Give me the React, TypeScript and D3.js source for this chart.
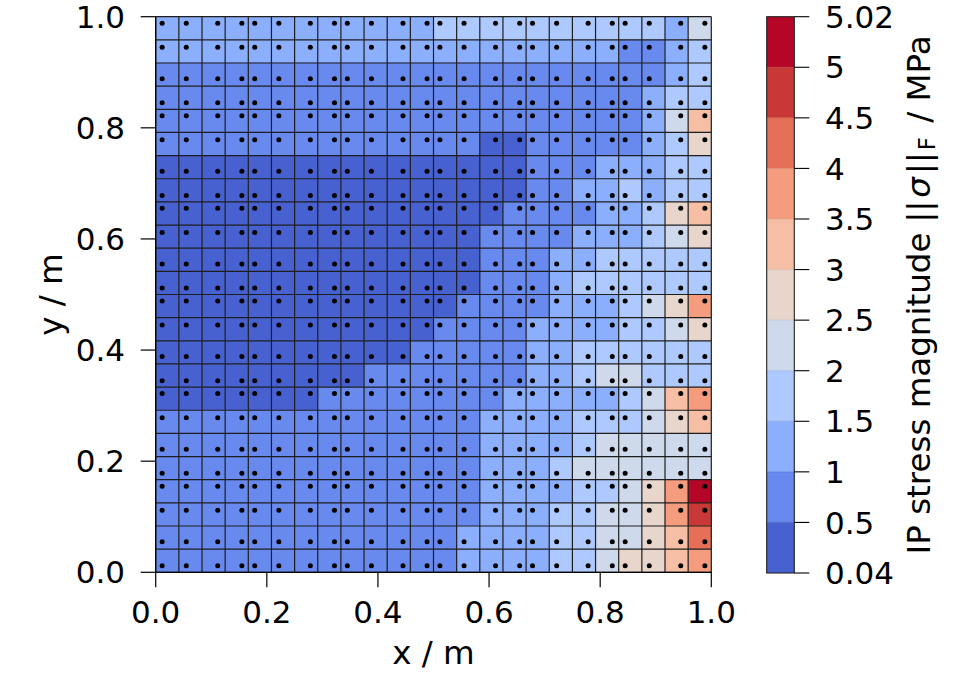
// Integration-point stress magnitude on a 6x6 element mesh (4x4 Gauss points each).

import * as d3 from "d3";

// colour levels of the discrete colourbar (MPa)
const levels = [0.04, 0.5, 1, 1.5, 2, 2.5, 3, 3.5, 4, 4.5, 5, 5.02];
const levelLabels = ["0.04", "0.5", "1", "1.5", "2", "2.5", "3", "3.5", "4", "4.5", "5", "5.02"];

const xTicks = [0, 0.2, 0.4, 0.6, 0.8, 1.0];
const yTicks = [0, 0.2, 0.4, 0.6, 0.8, 1.0];

const nElements = 6; // elements per side
const gaussPoints = [-0.861136, -0.339981, 0.339981, 0.861136]; // 4-point rule

// stress magnitude at each integration point, rows from y = 1 (top) down to y = 0
const stress = [
  [1.25, 1.25, 1.25, 1.25, 1.25, 1.25, 1.25, 1.25, 1.25, 1.25, 1.25, 1.25, 1.75, 1.75, 1.75, 1.75, 1.75, 1.75, 1.75, 1.75, 1.75, 1.75, 1.25, 2.25],
  [1.25, 1.25, 1.25, 1.25, 1.25, 1.25, 1.25, 1.25, 1.25, 1.25, 1.25, 1.25, 1.25, 1.25, 1.25, 1.25, 1.25, 1.25, 1.25, 1.25, 0.75, 0.75, 1.25, 1.75],
  [0.75, 0.75, 0.75, 0.75, 0.75, 0.75, 0.75, 0.75, 0.75, 0.75, 0.75, 0.75, 0.75, 0.75, 0.75, 0.75, 0.75, 0.75, 0.75, 0.75, 0.75, 0.75, 1.25, 1.75],
  [0.75, 0.75, 0.75, 0.75, 0.75, 0.75, 0.75, 0.75, 0.75, 0.75, 0.75, 0.75, 0.75, 0.75, 0.75, 0.75, 0.75, 0.75, 0.75, 0.75, 0.75, 1.25, 1.75, 1.75],
  [0.75, 0.75, 0.75, 0.75, 0.75, 0.75, 0.75, 0.75, 0.75, 0.75, 0.75, 0.75, 0.75, 0.75, 0.75, 0.75, 0.75, 0.75, 0.75, 0.75, 0.75, 1.25, 2.25, 3.25],
  [0.75, 0.75, 0.75, 0.75, 0.75, 0.75, 0.75, 0.75, 0.75, 0.75, 0.75, 0.75, 0.75, 0.75, 0.3, 0.3, 0.75, 0.75, 0.75, 0.75, 0.75, 1.25, 1.75, 2.75],
  [0.3, 0.3, 0.3, 0.3, 0.3, 0.3, 0.3, 0.3, 0.3, 0.3, 0.3, 0.3, 0.3, 0.3, 0.3, 0.3, 0.75, 0.75, 0.75, 1.25, 1.25, 1.25, 1.75, 1.75],
  [0.3, 0.3, 0.3, 0.3, 0.3, 0.3, 0.3, 0.3, 0.3, 0.3, 0.3, 0.3, 0.3, 0.3, 0.3, 0.3, 0.75, 0.75, 1.25, 1.25, 1.75, 1.25, 1.75, 1.75],
  [0.3, 0.3, 0.3, 0.3, 0.3, 0.3, 0.3, 0.3, 0.3, 0.3, 0.3, 0.3, 0.3, 0.3, 0.3, 0.75, 0.75, 0.75, 0.75, 1.25, 1.25, 1.75, 2.75, 3.25],
  [0.3, 0.3, 0.3, 0.3, 0.3, 0.3, 0.3, 0.3, 0.3, 0.3, 0.3, 0.3, 0.3, 0.3, 0.75, 0.75, 0.75, 0.75, 1.25, 1.25, 1.25, 1.75, 2.25, 2.75],
  [0.3, 0.3, 0.3, 0.3, 0.3, 0.3, 0.3, 0.3, 0.3, 0.3, 0.3, 0.3, 0.3, 0.3, 0.75, 0.75, 0.75, 1.25, 1.25, 1.75, 1.75, 1.75, 1.75, 1.75],
  [0.3, 0.3, 0.3, 0.3, 0.3, 0.3, 0.3, 0.3, 0.3, 0.3, 0.3, 0.3, 0.3, 0.3, 0.75, 0.75, 0.75, 1.25, 1.75, 1.75, 1.75, 1.75, 1.75, 1.75],
  [0.3, 0.3, 0.3, 0.3, 0.3, 0.3, 0.3, 0.3, 0.3, 0.3, 0.3, 0.3, 0.3, 0.75, 0.75, 0.75, 0.75, 1.25, 1.25, 1.25, 1.75, 2.25, 2.75, 3.75],
  [0.3, 0.3, 0.3, 0.3, 0.3, 0.3, 0.3, 0.3, 0.3, 0.3, 0.3, 0.3, 0.75, 0.75, 0.75, 0.75, 1.25, 1.25, 1.25, 1.25, 1.75, 1.75, 2.25, 2.75],
  [0.3, 0.3, 0.3, 0.3, 0.3, 0.3, 0.3, 0.3, 0.3, 0.3, 0.3, 0.75, 0.75, 0.75, 0.75, 0.75, 1.25, 1.25, 1.75, 1.75, 1.75, 1.75, 1.75, 1.75],
  [0.3, 0.3, 0.3, 0.3, 0.3, 0.3, 0.3, 0.3, 0.3, 0.75, 0.75, 0.75, 0.75, 0.75, 0.75, 0.75, 1.25, 1.25, 1.75, 2.25, 2.25, 1.75, 1.75, 1.75],
  [0.3, 0.3, 0.3, 0.3, 0.3, 0.3, 0.3, 0.75, 0.75, 0.75, 0.75, 0.75, 0.75, 0.75, 0.75, 1.25, 1.25, 1.25, 1.25, 1.25, 1.75, 2.25, 3.25, 3.75],
  [0.75, 0.75, 0.75, 0.75, 0.75, 0.75, 0.75, 0.75, 0.75, 0.75, 0.75, 0.75, 0.75, 0.75, 1.25, 1.25, 1.25, 1.25, 1.75, 1.75, 1.75, 2.25, 2.75, 3.25],
  [0.75, 0.75, 0.75, 0.75, 0.75, 0.75, 0.75, 0.75, 0.75, 0.75, 0.75, 0.75, 0.75, 0.75, 1.25, 1.25, 1.25, 1.25, 1.75, 2.25, 2.25, 2.25, 2.25, 2.25],
  [0.75, 0.75, 0.75, 0.75, 0.75, 0.75, 0.75, 0.75, 0.75, 0.75, 0.75, 0.75, 0.75, 0.75, 1.25, 1.25, 1.25, 1.75, 2.25, 2.25, 2.25, 2.25, 2.25, 2.25],
  [0.75, 0.75, 0.75, 0.75, 0.75, 0.75, 0.75, 0.75, 0.75, 0.75, 0.75, 0.75, 0.75, 0.75, 1.25, 1.25, 1.25, 1.25, 1.75, 1.75, 2.25, 2.75, 3.75, 5.01],
  [0.75, 0.75, 0.75, 0.75, 0.75, 0.75, 0.75, 0.75, 0.75, 0.75, 0.75, 0.75, 0.75, 0.75, 1.25, 1.25, 1.25, 1.75, 1.75, 2.25, 2.25, 2.75, 3.75, 4.75],
  [0.75, 0.75, 0.75, 0.75, 0.75, 0.75, 0.75, 0.75, 0.75, 0.75, 0.75, 0.75, 0.75, 1.25, 1.25, 1.25, 1.25, 1.75, 1.75, 2.25, 2.25, 2.75, 3.25, 4.25],
  [0.75, 0.75, 0.75, 0.75, 0.75, 0.75, 0.75, 0.75, 0.75, 0.75, 0.75, 0.75, 0.75, 1.25, 1.25, 1.25, 1.25, 1.75, 1.75, 2.25, 2.75, 2.75, 3.25, 3.75],
];

// matplotlib "coolwarm" (Moreland) control points
const coolwarmStops = [
  "#3b4cc0", "#445acc", "#4d68d7", "#5775e1", "#6282ea", "#6c8ef1", "#779af7", "#82a5fb",
  "#8db0fe", "#98b9ff", "#a3c2ff", "#aec9fd", "#b8d0f9", "#c2d5f4", "#ccd9ee", "#d5dbe6",
  "#dddddd", "#e5d8d1", "#ecd3c5", "#f1ccb9", "#f5c4ad", "#f7bba0", "#f7b194", "#f7a687",
  "#f49a7b", "#f18d6f", "#ec7f63", "#e57058", "#de604d", "#d55042", "#cb3e38", "#c0282f",
  "#b40426",
];

export default function App() {
  const width = 975;
  const height = 675;
  const left = 155.7;
  const right = 711.3;
  const top = 16.7;
  const bottom = 572.3;
  const font = "DejaVu Sans, Liberation Sans, sans-serif";
  const fs = 31; // tick labels
  const lfs = 32.5; // axis labels

  const x = d3.scaleLinear([0, 1], [left, right]);
  const y = d3.scaleLinear([0, 1], [bottom, top]);

  const coolwarm = d3
    .scaleLinear<string>()
    .domain(coolwarmStops.map((_, i) => i / (coolwarmStops.length - 1)))
    .range(coolwarmStops)
    .interpolate(d3.interpolateRgb);

  // each band is coloured by its midpoint, like contourf
  const lo = levels[0];
  const hi = levels[levels.length - 1];
  const bandColors = levels.slice(0, -1).map((l, i) => coolwarm(((l + levels[i + 1]) / 2 - lo) / (hi - lo)));
  const band = d3.scaleThreshold<number, string>().domain(levels.slice(1, -1)).range(bandColors);

  const n = stress.length;
  const cell = 1 / n;

  // integration point coordinates along one axis
  const ipCoords = d3.range(nElements).flatMap((e) =>
    gaussPoints.map((g) => (e + 0.5 + g / 2) / nElements),
  );

  // colourbar
  const cbLeft = 766.7;
  const cbRight = 794.3;
  const cbY = d3.scaleLinear([0, levels.length - 1], [573, top]);

  return (
    <svg
      width={width}
      height={height}
      style={{ position: "absolute", left: 0, top: 0, background: "white" }}
      fontFamily={font}
    >
      {/* cells */}
      <g>
        {stress.map((row, r) =>
          row.map((v, c) => (
            <rect
              key={`${r}-${c}`}
              x={x(c * cell)}
              y={y(1 - r * cell)}
              width={x(cell) - x(0)}
              height={y(0) - y(cell)}
              fill={band(v)}
              stroke={band(v)}
              strokeWidth={0.5}
            />
          )),
        )}
      </g>
      {/* cell outlines */}
      <g stroke="#1e1e1e" strokeWidth={1.2}>
        {d3.range(n + 1).map((i) => (
          <line key={`v${i}`} x1={x(i * cell)} x2={x(i * cell)} y1={top} y2={bottom} />
        ))}
        {d3.range(n + 1).map((i) => (
          <line key={`h${i}`} y1={y(i * cell)} y2={y(i * cell)} x1={left} x2={right} />
        ))}
      </g>
      {/* integration points */}
      <g fill="black">
        {ipCoords.map((py, r) =>
          ipCoords.map((px, c) => <circle key={`${r}-${c}`} cx={x(px)} cy={y(py)} r={2.5} />),
        )}
      </g>

      {/* axes */}
      <g stroke="black" strokeWidth={1.2}>
        <line x1={left} x2={left} y1={top} y2={bottom + 0.6} />
        <line x1={left - 0.6} x2={right + 0.6} y1={bottom} y2={bottom} />
        {xTicks.map((t) => (
          <line key={t} x1={x(t)} x2={x(t)} y1={bottom} y2={bottom + 15} />
        ))}
        {yTicks.map((t) => (
          <line key={t} x1={left - 15} x2={left} y1={y(t)} y2={y(t)} />
        ))}
      </g>
      <g fontSize={fs} fill="black">
        {xTicks.map((t) => (
          <text key={t} x={x(t)} y={623} textAnchor="middle">
            {t.toFixed(1)}
          </text>
        ))}
        {yTicks.map((t) => (
          <text key={t} x={125} y={y(t)} dy="0.36em" textAnchor="end">
            {t.toFixed(1)}
          </text>
        ))}
      </g>
      <g fontSize={lfs} fill="black">
        <text x={(left + right) / 2} y={664} textAnchor="middle">
          x / m
        </text>
        <text transform={`translate(62, ${(top + bottom) / 2}) rotate(-90)`} textAnchor="middle">
          y / m
        </text>
      </g>

      {/* colourbar */}
      <g>
        {bandColors.map((col, i) => (
          <rect
            key={i}
            x={cbLeft}
            y={cbY(i + 1)}
            width={cbRight - cbLeft}
            height={cbY(i) - cbY(i + 1)}
            fill={col}
          />
        ))}
        {bandColors.slice(1).map((col, i) => (
          <line
            key={i}
            x1={cbLeft}
            x2={cbRight}
            y1={cbY(i + 1)}
            y2={cbY(i + 1)}
            stroke={d3.color(bandColors[i])?.darker(0.4).formatHex()}
            strokeWidth={1}
            strokeOpacity={0.6}
          />
        ))}
        <rect
          x={cbLeft}
          y={cbY(levels.length - 1)}
          width={cbRight - cbLeft}
          height={cbY(0) - cbY(levels.length - 1)}
          fill="none"
          stroke="#222"
          strokeWidth={1.1}
        />
        <g stroke="black" strokeWidth={1.1}>
          {levels.map((l, i) => (
            <line key={l} x1={cbRight} x2={cbRight + 15} y1={cbY(i)} y2={cbY(i)} />
          ))}
        </g>
        <g fontSize={fs} fill="black">
          {levelLabels.map((lab, i) => (
            <text key={lab} x={825} y={cbY(i)} dy="0.36em">
              {lab}
            </text>
          ))}
        </g>
        <text
          transform={`translate(930, ${(top + 573) / 2}) rotate(-90)`}
          textAnchor="middle"
          fontSize={lfs}
          fill="black"
        >
          IP stress magnitude<tspan dx={10}>||</tspan>
          <tspan fontStyle="italic" dx={3}>σ</tspan>
          <tspan dx={3}>||</tspan>
          <tspan fontSize={lfs * 0.7} dy={lfs * 0.15} dx={2}>F</tspan>
          <tspan dy={-lfs * 0.15} dx={4}> / MPa</tspan>
        </text>
      </g>
    </svg>
  );
}
